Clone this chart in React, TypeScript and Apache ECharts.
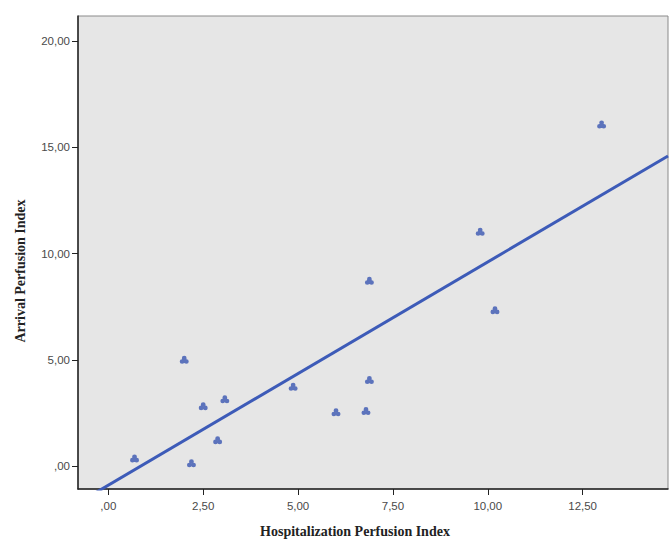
import React, { useEffect, useRef } from "react";
import * as echarts from "echarts";

// Data
const hospitalizationPI: number[] = [0.69, 2.0, 2.5, 3.07, 2.88, 2.19, 4.87, 6.0, 6.79, 6.88, 6.88, 10.19, 9.8, 13.0];
const arrivalPI: number[] = [0.36, 5.0, 2.82, 3.14, 1.22, 0.13, 3.73, 2.53, 2.59, 4.05, 8.72, 7.34, 11.03, 16.08];
const fitSlope = 1.051;
const fitIntercept = -0.9;
const xTicks: number[] = [0, 2.5, 5, 7.5, 10, 12.5];
const yTicks: number[] = [0, 5, 10, 15, 20];
const xRange: number[] = [-0.8, 14.75];
const yRange: number[] = [-1.08, 21.19];
const xTitle = "Hospitalization Perfusion Index";
const yTitle = "Arrival Perfusion Index";

const fmt = (v: number) => {
  let s = v.toFixed(2).replace(".", ",");
  if (s.startsWith("0,")) s = s.slice(1);
  return s;
};

const markerPath =
  "path://M7.5,2.6A2.5,2.5 0 1 1 2.5,2.6A2.5,2.5 0 1 1 7.5,2.6Z" +
  "M5.3,6.4A2.5,2.5 0 1 1 0.3,6.4A2.5,2.5 0 1 1 5.3,6.4Z" +
  "M9.7,6.4A2.5,2.5 0 1 1 4.7,6.4A2.5,2.5 0 1 1 9.7,6.4Z";

export default function App() {
  const ref = useRef<HTMLDivElement>(null);
  useEffect(() => {
    if (!ref.current) return;
    const chart = echarts.init(ref.current, undefined, { renderer: "svg" });
    const points = hospitalizationPI.map((x, i) => [x, arrivalPI[i]]);
    const fitLine = [
      [xRange[0], fitSlope * xRange[0] + fitIntercept],
      [xRange[1], fitSlope * xRange[1] + fitIntercept],
    ];
    const labelStyle = {
      color: "#4a4a4a",
      fontSize: 11.5,
      fontFamily: "Liberation Sans, Arial, sans-serif",
      formatter: (v: number) => fmt(v),
    };
    chart.setOption({
      animation: false,
      backgroundColor: "#ffffff",
      grid: {
        left: 78,
        top: 16,
        right: 1,
        bottom: 50,
        show: true,
        backgroundColor: "#e6e6e6",
        borderColor: "#8a8a8a",
        borderWidth: 1,
      },
      xAxis: {
        type: "value",
        min: xRange[0],
        max: xRange[1],
        splitLine: { show: false },
        axisLine: { show: true, onZero: false, lineStyle: { color: "#222", width: 1.5 } },
        axisTick: { show: true, length: 6, customValues: xTicks, lineStyle: { color: "#222" } },
        axisLabel: { ...labelStyle, margin: 11, customValues: xTicks },
      },
      yAxis: {
        type: "value",
        min: yRange[0],
        max: yRange[1],
        splitLine: { show: false },
        axisLine: { show: true, onZero: false, lineStyle: { color: "#222", width: 1.5 } },
        axisTick: { show: true, length: 6, customValues: yTicks, lineStyle: { color: "#222" } },
        axisLabel: { ...labelStyle, margin: 8, customValues: yTicks },
      },
      graphic: [
        {
          type: "text",
          x: 355,
          y: 531,
          style: {
            text: xTitle,
            font: "bold 14px 'Liberation Serif', 'Times New Roman', serif",
            fill: "#222",
            textAlign: "center",
            textVerticalAlign: "middle",
          },
        },
        {
          type: "text",
          x: 20,
          y: 271,
          rotation: Math.PI / 2,
          style: {
            text: yTitle,
            font: "bold 14px 'Liberation Serif', 'Times New Roman', serif",
            fill: "#222",
            textAlign: "center",
            textVerticalAlign: "middle",
          },
        },
      ],
      series: [
        {
          type: "line",
          data: fitLine,
          symbol: "none",
          clip: true,
          lineStyle: { color: "#3d5bb8", width: 3 },
          z: 2,
        },
        {
          type: "scatter",
          data: points,
          symbol: markerPath,
          symbolSize: [9, 8],
          itemStyle: { color: "#3a56b2" },
          z: 3,
        },
      ],
    });
    return () => chart.dispose();
  }, []);
  return (
    <div
      ref={ref}
      style={{ position: "fixed", left: 0, top: 0, width: 669, height: 539 }}
    />
  );
}
